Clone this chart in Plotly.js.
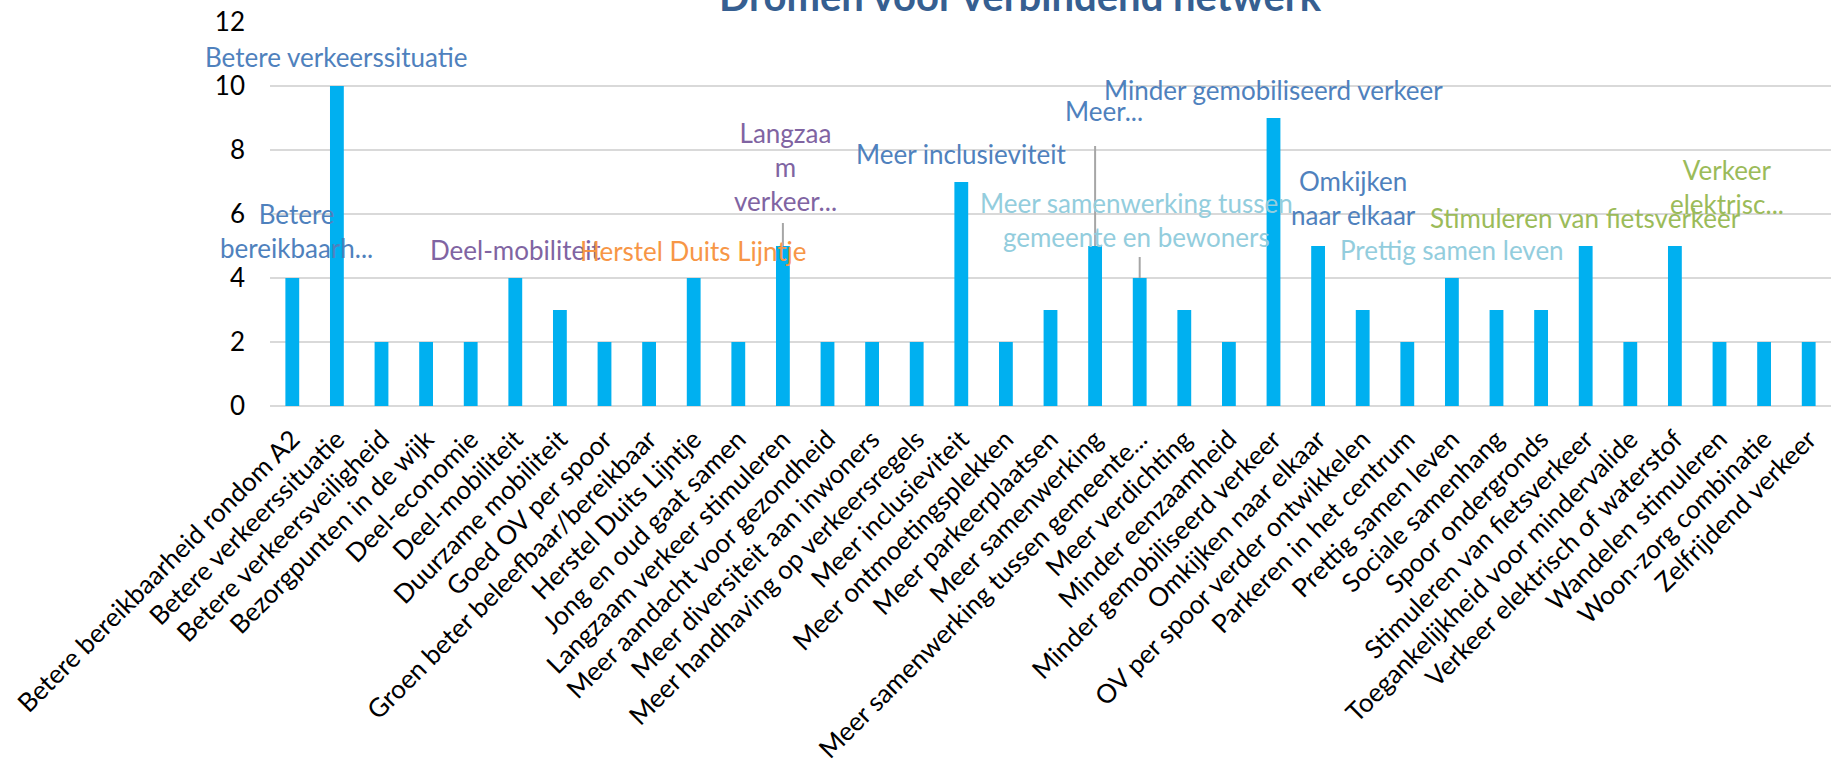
<!DOCTYPE html>
<html>
<head>
<meta charset="utf-8">
<script src="https://cdn.plot.ly/plotly-3.0.1.min.js"></script>
<style>
  html, body { margin: 0; padding: 0; background: #ffffff; }
  #chart { width: 1842px; height: 769px; }
</style>
</head>
<body>
<div id="chart"></div>
<script>
// ---------- DATA ----------
const chartTitle = "Dromen voor verbindend netwerk";

const categories = [
  "Betere bereikbaarheid rondom A2",
  "Betere verkeerssituatie",
  "Betere verkeersveiligheid",
  "Bezorgpunten in de wijk",
  "Deel-economie",
  "Deel-mobiliteit",
  "Duurzame mobiliteit",
  "Goed OV per spoor",
  "Groen beter beleefbaar/bereikbaar",
  "Herstel Duits Lijntje",
  "Jong en oud gaat samen",
  "Langzaam verkeer stimuleren",
  "Meer aandacht voor gezondheid",
  "Meer diversiteit aan inwoners",
  "Meer handhaving op verkeersregels",
  "Meer inclusieviteit",
  "Meer ontmoetingsplekken",
  "Meer parkeerplaatsen",
  "Meer samenwerking",
  "Meer samenwerking tussen gemeente...",
  "Meer verdichting",
  "Minder eenzaamheid",
  "Minder gemobiliseerd verkeer",
  "Omkijken naar elkaar",
  "OV per spoor verder ontwikkelen",
  "Parkeren in het centrum",
  "Prettig samen leven",
  "Sociale samenhang",
  "Spoor ondergronds",
  "Stimuleren van fietsverkeer",
  "Toegankelijkheid voor mindervalide",
  "Verkeer elektrisch of waterstof",
  "Wandelen stimuleren",
  "Woon-zorg combinatie",
  "Zelfrijdend verkeer"
];

const values = [4, 10, 2, 2, 2, 4, 3, 2, 2, 4, 2, 5, 2, 2, 2, 7, 2, 3, 5, 4, 3, 2, 9, 5, 3, 2, 4, 3, 3, 5, 2, 5, 2, 2, 2];

const yTickValues = [0, 2, 4, 6, 8, 10, 12];

// data-label callouts (category they belong to, and the text shown)
const calloutCategories = [
  "Betere bereikbaarheid rondom A2",
  "Betere verkeerssituatie",
  "Deel-mobiliteit",
  "Herstel Duits Lijntje",
  "Langzaam verkeer stimuleren",
  "Meer inclusieviteit",
  "Meer samenwerking",
  "Meer samenwerking tussen gemeente...",
  "Minder gemobiliseerd verkeer",
  "Omkijken naar elkaar",
  "Prettig samen leven",
  "Stimuleren van fietsverkeer",
  "Verkeer elektrisch of waterstof"
];
const calloutTexts = [
  "Betere<br>bereikbaarh...",
  "Betere verkeerssituatie",
  "Deel-mobiliteit",
  "Herstel Duits Lijntje",
  "Langzaa<br>m<br>verkeer...",
  "Meer inclusieviteit",
  "Meer...",
  "Meer samenwerking tussen<br>gemeente en bewoners",
  "Minder gemobiliseerd verkeer",
  "Omkijken<br>naar elkaar",
  "Prettig samen leven",
  "Stimuleren van fietsverkeer",
  "Verkeer<br>elektrisc..."
];

// ---------- STYLE / PLACEMENT (not data) ----------
const BLUE = "#4F81BD", PURPLE = "#8064A2", ORANGE = "#F79646", LIGHTBLUE = "#93CDDD", GREEN = "#9BBB59";
// dx/dy: label centre offset from bar top (px); leader: length of leader line above bar top (px)
const calloutStyle = [
  { color: BLUE,      dx: 4,  dy: -47,  leader: 0 },
  { color: BLUE,      dx: 0,  dy: -29,  leader: 0 },
  { color: PURPLE,    dx: 0,  dy: -28,  leader: 0 },
  { color: ORANGE,    dx: 0,  dy: -27,  leader: 0 },
  { color: PURPLE,    dx: 3,  dy: -79,  leader: 23 },
  { color: BLUE,      dx: 0,  dy: -28,  leader: 0 },
  { color: BLUE,      dx: 9,  dy: -135, leader: 100 },
  { color: LIGHTBLUE, dx: -3, dy: -58,  leader: 21 },
  { color: BLUE,      dx: 0,  dy: -28,  leader: 0 },
  { color: BLUE,      dx: 35, dy: -48,  leader: 0 },
  { color: LIGHTBLUE, dx: 0,  dy: -28,  leader: 0 },
  { color: GREEN,     dx: 0,  dy: -28,  leader: 0 },
  { color: GREEN,     dx: 52, dy: -59,  leader: 0 }
];

const FONT = "Lato, Carlito, Calibri, 'DejaVu Sans', sans-serif";
const LABEL_SIZE = 26;

const annotations = calloutCategories.map((cat, i) => {
  const st = calloutStyle[i];
  return {
    x: cat,
    y: values[categories.indexOf(cat)],
    xref: "x", yref: "y",
    text: calloutTexts[i],
    showarrow: false,
    xanchor: "center", yanchor: "middle",
    xshift: st.dx, yshift: -st.dy,
    font: { family: FONT, size: LABEL_SIZE, color: st.color },
    align: "center",
    borderpad: 0
  };
});

annotations.push({
  xref: "paper", yref: "paper",
  x: 0.481, y: 1,
  xanchor: "center", yanchor: "bottom",
  showarrow: false,
  text: "<b>" + chartTitle + "</b>",
  font: { family: FONT, size: 40, color: "#365F91" }
});

// leader lines from the bar top upward (anchored at the bar value, length in px)
const shapes = calloutCategories
  .map((cat, i) => ({ cat, st: calloutStyle[i] }))
  .filter(o => o.st.leader > 0)
  .map(o => {
    const idx = categories.indexOf(o.cat);
    return {
      type: "line",
      xref: "x", yref: "y",
      x0: idx, x1: idx,
      ysizemode: "pixel",
      yanchor: values[idx],
      y0: 0, y1: o.st.leader,
      line: { color: "#A6A6A6", width: 2 },
      layer: "above"
    };
  });

const trace = {
  type: "bar",
  x: categories,
  y: values,
  marker: { color: "#00B0F0" },
  hoverinfo: "x+y"
};

const layout = {
  width: 1842,
  height: 769,
  margin: { l: 270, r: 11, t: 22, b: 363, pad: 0 },
  paper_bgcolor: "#ffffff",
  plot_bgcolor: "#ffffff",
  bargap: 0.69,
  showlegend: false,
  font: { family: FONT, size: 26, color: "#000000" },
  xaxis: {
    type: "category",
    autorange: false,
    range: [-0.5, categories.length - 0.5],
    tickangle: -45,
    tickfont: { family: FONT, size: 26, color: "#000000" },
    showgrid: false,
    showline: false,
    ticks: "",
    ticklabelstandoff: 12,
    automargin: false
  },
  yaxis: {
    autorange: false,
    range: [0, 12],
    tickvals: yTickValues,
    tickfont: { family: FONT, size: 26, color: "#000000" },
    showgrid: true,
    gridcolor: "#D9D9D9",
    gridwidth: 2,
    zeroline: true,
    zerolinecolor: "#D9D9D9",
    zerolinewidth: 2,
    showline: false,
    ticks: "",
    ticklabelstandoff: 24,
    automargin: false
  },
  shapes: shapes,
  annotations: annotations
};

Plotly.newPlot("chart", [trace], layout, { displayModeBar: false, staticPlot: true });
</script>
</body>
</html>
